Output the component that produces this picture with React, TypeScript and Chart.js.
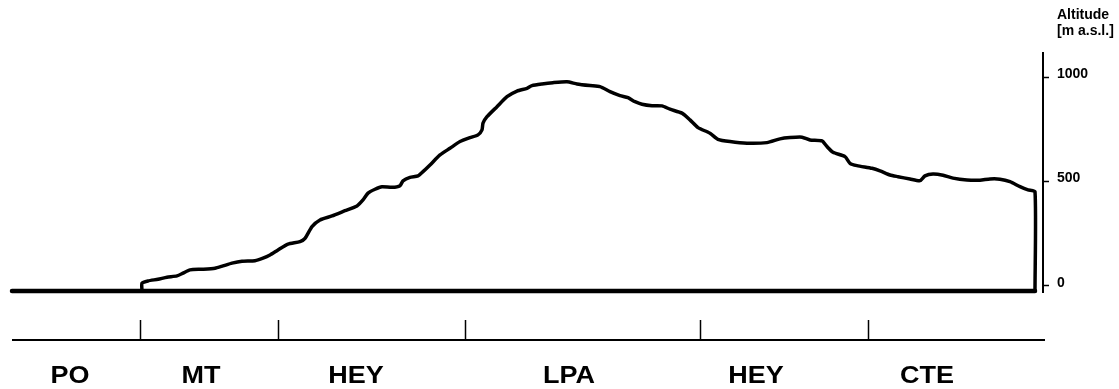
import React, { useEffect, useRef } from "react";
import { Chart, registerables } from "chart.js";

Chart.register(...registerables);

// Distance along the route (km) and altitude (m a.s.l.) of the profile
const DIST_KM = [
  13.0, 13.0, 13.6, 14.6, 15.5, 16.5, 17.1, 17.8, 19.0, 20.3, 21.1, 22.0, 23.0, 24.3, 25.1, 25.8,
  26.6, 27.6, 28.8, 29.3, 30.0, 30.8, 32.0, 33.3, 34.5, 35.1, 35.6, 36.3, 37.0, 38.0, 38.8, 39.1,
  39.8, 40.6, 41.1, 41.8, 42.8, 43.8, 44.8, 45.8, 46.6, 47.0, 47.1, 47.5, 48.5, 49.5, 50.5, 51.5,
  52.0, 53.0, 54.1, 55.5, 56.5, 57.8, 58.8, 59.8, 60.8, 61.6, 62.3, 63.0, 64.0, 65.0, 65.8, 67.0,
  67.8, 68.6, 69.8, 70.6, 71.8, 73.5, 75.5, 76.8, 77.8, 79.0, 79.8, 81.0, 81.5, 82.1, 83.3, 83.8,
  84.5, 86.0, 86.8, 87.8, 88.6, 89.8, 90.8, 91.3, 92.1, 93.1, 94.1, 95.5, 96.8, 97.8, 98.8, 99.8,
  100.8, 101.6, 102.3, 102.3,
];
const ALT_M = [
  -24, 13, 24, 32, 42, 48, 61, 77, 80, 85, 96, 109, 118, 121, 133, 148,
  172, 200, 212, 228, 284, 316, 335, 360, 383, 412, 444, 463, 475, 472, 480, 503,
  520, 527, 547, 579, 627, 659, 691, 710, 723, 747, 779, 810, 858, 906, 933, 946,
  959, 967, 973, 977, 967, 959, 954, 930, 911, 901, 882, 870, 863, 862, 846, 827,
  795, 758, 731, 702, 691, 683, 686, 704, 710, 712, 699, 694, 667, 640, 619, 587,
  576, 563, 551, 531, 523, 512, 504, 527, 536, 530, 516, 507, 506, 512, 511, 499,
  475, 460, 451, -24,
];

// Base line of the profile
const BASE_KM = [0, 102.3];
const BASE_M = [-24, -24];

// Route sections along the bottom axis
const SEGMENT_BOUNDS_KM = [12.8, 26.6, 45.3, 68.8, 85.6];
const SEGMENT_LABELS = ["PO", "MT", "HEY", "LPA", "HEY", "CTE"];
const SEGMENT_LABEL_KM = [5.8, 18.9, 34.4, 55.7, 74.4, 91.5];

// Altitude axis
const Y_TICKS = [0, 500, 1000];
const Y_TITLE = ["Altitude", "[m a.s.l.]"];

const FONT = '"Liberation Sans", Arial, sans-serif';

const segmentAxisPlugin = {
  id: "segmentAxis",
  afterDraw(chart: any) {
    const { ctx, chartArea, scales } = chart;
    const xs = scales.x;
    const ys = scales.y;
    const lineY = chartArea.bottom + 48;
    ctx.save();
    ctx.strokeStyle = "#000";
    ctx.fillStyle = "#000";
    ctx.lineWidth = 2;
    ctx.beginPath();
    ctx.moveTo(xs.getPixelForValue(0), lineY);
    ctx.lineTo(chartArea.right + 2, lineY);
    ctx.stroke();
    ctx.lineWidth = 1.5;
    SEGMENT_BOUNDS_KM.forEach((b) => {
      const px = Math.round(xs.getPixelForValue(b)) + 0.5;
      ctx.beginPath();
      ctx.moveTo(px, lineY - 20);
      ctx.lineTo(px, lineY);
      ctx.stroke();
    });
    ctx.font = `bold 27px ${FONT}`;
    ctx.textAlign = "center";
    ctx.textBaseline = "alphabetic";
    SEGMENT_LABELS.forEach((t, i) => {
      const px = xs.getPixelForValue(SEGMENT_LABEL_KM[i]);
      ctx.save();
      ctx.translate(px, lineY + 43);
      ctx.scale(1, 0.92);
      ctx.fillText(t, 0, 0);
      ctx.restore();
    });
    ctx.font = `bold 14px ${FONT}`;
    ctx.textAlign = "left";
    const tx = ys.left + 14;
    ctx.fillText(Y_TITLE[0], tx, 19);
    ctx.fillText(Y_TITLE[1], tx, 35);
    ctx.restore();
  },
};

export default function App() {
  const ref = useRef<HTMLCanvasElement | null>(null);

  useEffect(() => {
    if (!ref.current) return;
    const chart = new Chart(ref.current, {
      type: "line",
      data: {
        datasets: [
          {
            data: BASE_KM.map((x, i) => ({ x, y: BASE_M[i] })),
            borderColor: "#000",
            borderWidth: 4.5,
            pointRadius: 0,
            tension: 0,
            clip: false,
            borderCapStyle: "round",
          },
          {
            data: DIST_KM.map((x, i) => ({ x, y: ALT_M[i] })),
            borderColor: "#000",
            borderWidth: 3.5,
            pointRadius: 0,
            tension: 0.2,
            clip: false,
            borderJoinStyle: "round",
            borderCapStyle: "round",
          },
        ],
      },
      options: {
        animation: false,
        responsive: false,
        layout: { padding: { left: 12, top: 53, bottom: 97, right: 0 } },
        plugins: {
          legend: { display: false },
          tooltip: { enabled: false },
          title: { display: false },
        },
        scales: {
          x: { type: "linear", min: 0, max: 103.1, display: false },
          y: {
            type: "linear",
            position: "right",
            min: -29,
            max: 1115,
            afterFit: (s: any) => {
              s.width = 76;
            },
            afterBuildTicks: (s: any) => {
              s.ticks = Y_TICKS.map((v) => ({ value: v }));
            },
            border: { display: true, color: "#000", width: 2 },
            grid: {
              display: true,
              drawOnChartArea: false,
              drawTicks: true,
              tickLength: 6,
              tickColor: "#000",
              tickWidth: 1.5,
              color: "#000",
            },
            ticks: {
              color: "#000",
              padding: 8,
              labelOffset: -3,
              font: { family: FONT, size: 14, weight: "bold" },
              callback: (v: any) => String(v),
            },
          },
        },
      },
      plugins: [segmentAxisPlugin],
    } as any);
    return () => chart.destroy();
  }, []);

  return (
    <div style={{ position: "fixed", left: 0, top: 0, width: 1119, height: 389, background: "#fff" }}>
      <canvas ref={ref} width={1119} height={389} />
    </div>
  );
}
